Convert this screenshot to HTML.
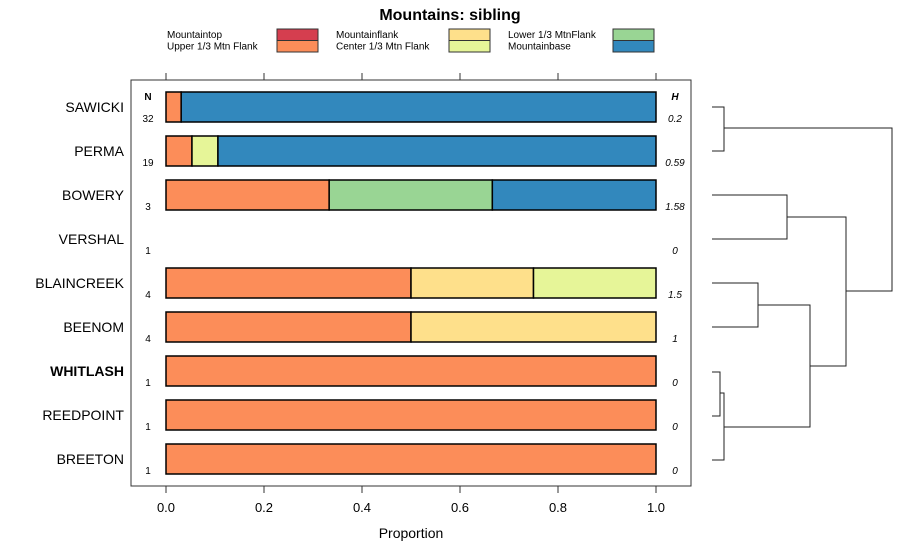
<!DOCTYPE html>
<html><head><meta charset="utf-8"><style>
body{margin:0;background:#fff}
svg{display:block;font-family:"Liberation Sans",sans-serif}
</style></head><body>
<svg id="chart" width="900" height="560">
<text x="450" y="20" text-anchor="middle" font-size="16" font-weight="bold">Mountains: sibling</text>
<g id="legend"></g>
<rect x="131" y="80" width="560" height="406" fill="none" stroke="#333"/>
<g id="bars"></g>
<g id="axis"></g>
<text x="411" y="538" text-anchor="middle" font-size="14">Proportion</text>
<text x="148" y="100" text-anchor="middle" font-size="10" font-weight="bold">N</text>
<text x="675" y="100" text-anchor="middle" font-size="10" font-weight="bold" font-style="italic">H</text>
<g id="dendro" fill="none" stroke="#222" stroke-width="1"></g>
</svg>
<script>
const categories=["SAWICKI","PERMA","BOWERY","VERSHAL","BLAINCREEK","BEENOM","WHITLASH","REEDPOINT","BREETON"];
const seriesNames=["Mountaintop","Upper 1/3 Mtn Flank","Mountainflank","Center 1/3 Mtn Flank","Lower 1/3 MtnFlank","Mountainbase"];
const seriesColors=["#D53E4F","#FC8D59","#FEE08B","#E6F598","#99D594","#3288BD"];
const mountaintop=[0,0,0,0,0,0,0,0,0];
const upper=[0.031,0.053,0.333,0,0.5,0.5,1,1,1];
const mtnflank=[0,0,0,0,0.25,0.5,0,0,0];
const center=[0,0.053,0,0,0.25,0,0,0,0];
const lower=[0,0,0.333,0,0,0,0,0,0];
const base=[0.969,0.894,0.334,0,0,0,0,0,0];
const nValues=["32","19","3","1","4","4","1","1","1"];
const hValues=["0.2","0.59","1.58","0","1.5","1","0","0","0"];
const ticks=[0,0.2,0.4,0.6,0.8,1.0];
const tickLabels=["0.0","0.2","0.4","0.6","0.8","1.0"];
const ns="http://www.w3.org/2000/svg";
const X=v=>166+v*490;
const Y=i=>107+i*44;
function mk(t,a,p){const e=document.createElementNS(ns,t);for(const k in a)e.setAttribute(k,a[k]);p.appendChild(e);return e;}
const series=[mountaintop,upper,mtnflank,center,lower,base];
const bars=document.getElementById('bars');
categories.forEach((c,i)=>{
 let acc=0;
 series.forEach((s,j)=>{
  if(s[i]>0){
   const r=mk('rect',{x:X(acc),y:Y(i)-15,width:X(acc+s[i])-X(acc),height:30,fill:seriesColors[j],stroke:'#000','stroke-width':1.5},bars);
   
   
  }
  acc+=s[i];
 });
 const l=mk('text',{x:124,y:Y(i)+5,'text-anchor':'end','font-size':14},bars);
 if(c==='WHITLASH')l.setAttribute('font-weight','bold');
 l.textContent=c;
 
 
 const n=mk('text',{x:148,y:Y(i)+15,'text-anchor':'middle','font-size':10},bars);
 n.textContent=nValues[i];
 
 
 const h=mk('text',{x:675,y:Y(i)+15,'text-anchor':'middle','font-size':10,'font-style':'italic'},bars);
 h.textContent=hValues[i];
 
 
});
const ax=document.getElementById('axis');
ticks.forEach((t,i)=>{
 mk('line',{x1:X(t),x2:X(t),y1:486,y2:493,stroke:'#333'},ax);
 mk('line',{x1:X(t),x2:X(t),y1:80,y2:73,stroke:'#333'},ax);
 const tx=mk('text',{x:X(t),y:512,'text-anchor':'middle','font-size':13},ax);
 tx.textContent=tickLabels[i];
 
 
});
const lg=document.getElementById('legend');
const lgX=[[167,277],[336,449],[508,613]];
seriesNames.forEach((s,k)=>{
 const col=Math.floor(k/2),row=k%2;
 const y=29+row*11.5;
 const t=mk('text',{x:lgX[col][0],y:y+9,'font-size':10},lg);
 t.textContent=s;
 
 
 const r=mk('rect',{x:lgX[col][1],y:y,width:41,height:11.5,fill:seriesColors[k],stroke:'#333'},lg);
 
 
});
const d=document.getElementById('dendro');
const L=712;
function path(p){const e=mk('path',{d:p},d);}
const yl=[107,151,195,239,283,327,372,416,460];
path(`M${L},${yl[0]}H724V${yl[1]}H${L}`);
path(`M${L},${yl[2]}H787V${yl[3]}H${L}`);
path(`M${L},${yl[4]}H758V${yl[5]}H${L}`);
path(`M${L},${yl[6]}H720V${yl[7]}H${L}`);
path(`M720,393H724V${yl[8]}H${L}`);
path(`M758,305H810V427H724`);
path(`M787,217H846V366H810`);
path(`M724,128H892V291H846`);
</script>
</body></html>
